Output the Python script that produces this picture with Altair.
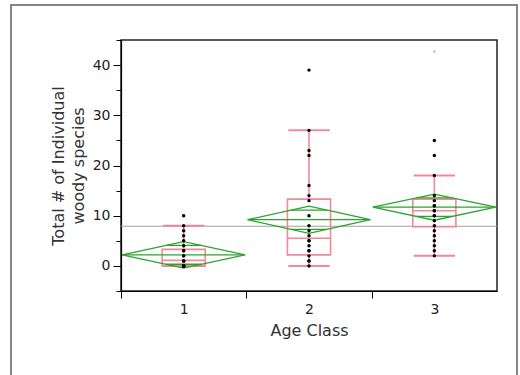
import altair as alt
import pandas as pd
import math

# ---- data ----
groups = [1, 2, 3]
g1_values = [10, 8, 7, 6, 5, 4, 3, 3, 2, 2, 1, 1, 1, 0, 0, 0, 0, 0]
g2_values = [39, 27, 23, 22, 16, 14, 13, 10, 8, 7, 6, 5, 5, 4, 3, 3, 2, 1, 1, 0]
g3_values = [25, 22, 18, 14, 13, 12, 12, 11, 11, 10, 10, 9, 8, 7, 6, 5, 4, 3, 2]
faint_group = [3]
faint_value = [42.7]

box_q1 = [0, 2.2, 7.8]
box_median = [1.1, 5.5, 11.0]
box_q3 = [3.3, 13.3, 13.3]
whisker_lo = [0, 0, 2]
whisker_hi = [8, 27, 18]

group_mean = [2.2, 9.2, 11.7]
ci_half = [2.65, 2.7, 2.6]
grand_mean = 7.9

x_tick_values = [0.5, 1.5, 2.5]
y_tick_values = [-5, 0, 5, 10, 15, 20, 25, 30, 35, 40, 45]

# ---- geometry constants (data units along x) ----
DIAMOND_HALF = 0.49
BOX_HALF = 0.172
CAP_HALF = 0.165
W, H = 376, 251

PINK = "#f0899a"
GREEN = "#2ca32c"
FONT = "DejaVu Sans"

pts = pd.DataFrame(
    [(1, v) for v in g1_values] + [(2, v) for v in g2_values] + [(3, v) for v in g3_values],
    columns=["group", "value"],
)
faint = pd.DataFrame({"group": faint_group, "value": faint_value})

box = pd.DataFrame({"group": groups, "q1": box_q1, "med": box_median, "q3": box_q3,
                    "lo": whisker_lo, "hi": whisker_hi})
box["bl"] = box["group"] - BOX_HALF
box["br"] = box["group"] + BOX_HALF
box["cl"] = box["group"] - CAP_HALF
box["cr"] = box["group"] + CAP_HALF

rows = []
for g, m, h in zip(groups, group_mean, ci_half):
    poly = [(g - DIAMOND_HALF, m), (g, m + h), (g + DIAMOND_HALF, m), (g, m - h), (g - DIAMOND_HALF, m)]
    for i, (x, y) in enumerate(poly):
        rows.append({"group": g, "order": i, "x": x, "y": y})
diamond = pd.DataFrame(rows)

seg = []
for g, m, h in zip(groups, group_mean, ci_half):
    seg.append({"x": g - DIAMOND_HALF, "x2": g + DIAMOND_HALF, "y": m})
    d = h / math.sqrt(2)
    hw = DIAMOND_HALF * (1 - d / h)
    seg.append({"x": g - hw, "x2": g + hw, "y": m + d})
    seg.append({"x": g - hw, "x2": g + hw, "y": m - d})
dseg = pd.DataFrame(seg)

xscale = alt.Scale(domain=[0.5, 3.5], nice=False, zero=False)
yscale = alt.Scale(domain=[-5, 45], nice=False, zero=False)

xaxis = alt.Axis(
    values=x_tick_values, labelExpr="'' + (datum.value + 0.5)", labelOffset=W / 6,
    labelFlush=False, labelOverlap=False, labelBound=False, grid=False,
    tickSize=7, tickColor="black", domainColor="black", domainWidth=1.2,
    labelFontSize=14, labelFont=FONT, labelColor="#222", labelPadding=4,
    title="Age Class", titleFontSize=16, titleFont=FONT, titleFontWeight="normal",
    titleColor="#333", titlePadding=6,
)
yaxis = alt.Axis(
    values=y_tick_values,
    labelExpr="datum.value >= 0 && datum.value % 10 == 0 ? datum.label : ''",
    tickSize={"condition": {"test": "datum.value % 10 == 0", "value": 8}, "value": 5},
    tickColor="black", domainColor="black", domainWidth=1.2, grid=False,
    labelFontSize=14, labelFont=FONT, labelColor="#222", labelPadding=3,
    labelOverlap=False, labelFlush=False, labelBound=False,
    title=["Total # of Individual", "woody species"], titleFontSize=16, titleFont=FONT,
    titleFontWeight="normal", titleColor="#333", titlePadding=6, titleLineHeight=20,
)


def X(f):
    return alt.X(f, type="quantitative", scale=xscale, axis=xaxis)


def Y(f):
    return alt.Y(f, type="quantitative", scale=yscale, axis=yaxis)


frame = alt.Chart(pd.DataFrame({"a": [0]})).mark_rect(
    fillOpacity=0, stroke="#858585", strokeWidth=2
).encode(x=alt.value(-110), x2=alt.value(396), y=alt.value(-35), y2=alt.value(345))

gm = alt.Chart(pd.DataFrame({"y": [grand_mean]})).mark_rule(color="#a0a0a0", strokeWidth=1).encode(
    y=Y("y"), x=alt.value(0), x2=alt.value(W)
)

box_rect = alt.Chart(box).mark_rect(fillOpacity=0, stroke=PINK, strokeWidth=1.6).encode(
    x=X("bl"), x2="br", y=Y("q1"), y2="q3"
)
med_rule = alt.Chart(box).mark_rule(color=PINK, strokeWidth=1.6).encode(x=X("bl"), x2="br", y=Y("med"))
wh_up = alt.Chart(box).mark_rule(color=PINK, strokeWidth=1.6).encode(x=X("group"), y=Y("q3"), y2="hi")
wh_dn = alt.Chart(box).mark_rule(color=PINK, strokeWidth=1.6).encode(x=X("group"), y=Y("lo"), y2="q1")
cap_hi = alt.Chart(box).mark_rule(color=PINK, strokeWidth=2).encode(x=X("cl"), x2="cr", y=Y("hi"))
cap_lo = alt.Chart(box).mark_rule(color=PINK, strokeWidth=2).encode(x=X("cl"), x2="cr", y=Y("lo"))

dia = alt.Chart(diamond).mark_line(color=GREEN, strokeWidth=1.3).encode(
    x=X("x"), y=Y("y"), detail="group:N", order="order:Q"
)
dia_lines = alt.Chart(dseg).mark_rule(color=GREEN, strokeWidth=1.3).encode(x=X("x"), x2="x2", y=Y("y"))

dots = alt.Chart(pts).mark_circle(size=12, color="black", opacity=1).encode(x=X("group"), y=Y("value"))
faint_dot = alt.Chart(faint).mark_square(size=6, color="#c8c8c8", opacity=1).encode(
    x=X("group"), y=Y("value")
)

chart = alt.layer(
    frame, gm, box_rect, med_rule, wh_up, wh_dn, cap_hi, cap_lo, dia, dia_lines, dots, faint_dot
).properties(
    width=W, height=H,
    autosize=alt.AutoSizeParams(type="none"),
    padding={"left": 121, "top": 40, "right": 23, "bottom": 84},
    background="white",
).configure_view(stroke="#222", strokeWidth=1.5)

chart.save("out.html", embed_options={"renderer": "svg", "actions": False})
